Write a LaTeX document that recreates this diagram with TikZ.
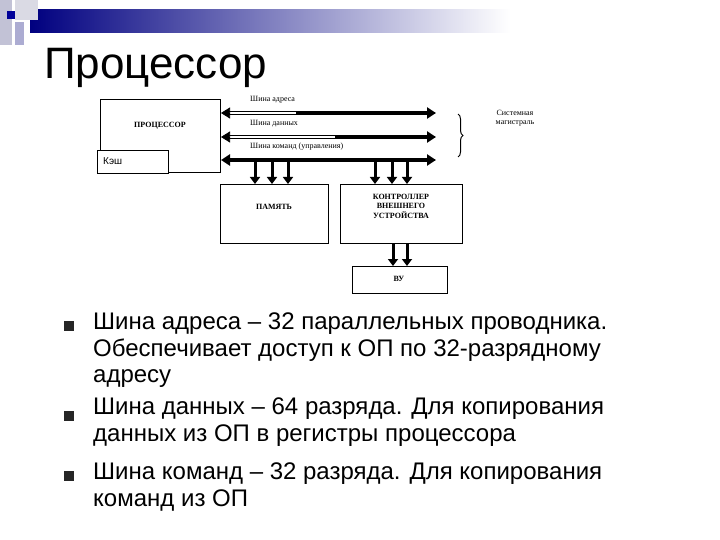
\documentclass[tikz,border=0pt]{standalone}
\usepackage{fontspec}
\setmainfont{Liberation Sans}
\newfontfamily\serifru{Liberation Serif}
\usetikzlibrary{arrows.meta,decorations.pathreplacing,calc}
\begin{document}
\begin{tikzpicture}[x=1pt,y=-1pt,
  box/.style={draw,line width=0.8pt},
  lbl/.style={font=\serifru\fontsize{8}{9}\selectfont,inner sep=0pt},
  blbl/.style={font=\serifru\bfseries\fontsize{8}{9.5}\selectfont,align=center,inner sep=0pt},
  thick bus/.style={line width=4pt,-{Triangle[length=9pt,width=11pt]}},
  hollow/.style={draw=black,double=white,double distance=2.5pt,line width=0.7pt},
  down/.style={line width=3pt,-{Triangle[length=7pt,width=10pt]}},
  btxt/.style={font=\fontsize{24}{26.5}\selectfont,anchor=north west,align=left,inner sep=0pt}]
\useasboundingbox (0,0) rectangle (720,540);
\fill[white] (0,0) rectangle (720,540);
% decoration
\shade[left color=blue!50!black,right color=white] (30,10) rectangle (510,33);
\fill[blue!20!gray!40] (0,0) rectangle (12,45);
\fill[blue!15!gray!25] (15,0) rectangle (38,20);
\fill[blue!30!gray!50] (15,22) rectangle (24,45);
\fill[blue!60!black] (7,11) rectangle (15,19);
\node[anchor=west,font=\fontsize{44}{44}\selectfont,inner sep=0pt] (title) at (44,68) {Процессор};
% boxes
\node[box,minimum width=120pt,minimum height=73pt,inner sep=0pt] (cpu) at (160,136) {};
\node[blbl] (cpulbl) at (160,126) {ПРОЦЕССОР};
\node[box,fill=white,minimum width=71pt,minimum height=23pt,anchor=north west,inner sep=0pt] (cache) at (97,150) {};
\node[anchor=west,font=\fontsize{10}{10}\selectfont,inner sep=0pt] (cachelbl) at (103,161) {Кэш};
\node[box,minimum width=108pt,minimum height=59pt,anchor=north west,inner sep=0pt] (mem) at (220,184) {};
\node[blbl] (memlbl) at (274,207) {ПАМЯТЬ};
\node[box,minimum width=122pt,minimum height=59pt,anchor=north west,inner sep=0pt] (ctl) at (340,184) {};
\node[blbl] (ctllbl) at (401,206) {КОНТРОЛЛЕР\\ВНЕШНЕГО\\УСТРОЙСТВА};
\node[box,minimum width=95pt,minimum height=27pt,anchor=north west,inner sep=0pt] (vu) at (352,266) {};
\node[blbl] (vulbl) at (399,279) {ВУ};
% buses
\coordinate (a0) at (221,113); \coordinate (a1) at (296,113); \coordinate (a2) at (436,113);
\coordinate (d0) at (221,137); \coordinate (d1) at (335,137); \coordinate (d2) at (436,137);
\coordinate (c0) at (221,160); \coordinate (c2) at (436,160);
\draw[thick bus] (a1) -- (a2);
\draw[hollow] ($(a0)+(7,0)$) -- (a1);
\draw[-{Triangle[length=9pt,width=11pt]},line width=0.6pt] ($(a0)+(8,0)$) -- (a0);
\draw[thick bus] (d1) -- (d2);
\draw[hollow] ($(d0)+(7,0)$) -- (d1);
\draw[-{Triangle[length=9pt,width=11pt]},line width=0.6pt] ($(d0)+(8,0)$) -- (d0);
\draw[thick bus,{Triangle[length=9pt,width=11pt]}-{Triangle[length=9pt,width=11pt]}] (c0) -- (c2);
\node[lbl,anchor=south west] (la) at (250,103) {Шина адреса};
\node[lbl,anchor=south west] (ld) at (250,127) {Шина данных};
\node[lbl,anchor=south west] (lc) at (250,150) {Шина команд (управления)};
\draw[decorate,decoration={brace,amplitude=5pt},line width=1pt] (458,114) -- (458,157);
\node[lbl,align=center] (sm) at (515,118) {Системная\\магистраль};
% down arrows
\foreach \x in {255,272,288} \draw[down] (\x,160) -- (\x,184);
\foreach \x in {375,392,407} \draw[down] (\x,160) -- (\x,184);
\foreach \x in {393,407} \draw[down] (\x,243) -- (\x,266);
% bullets
\foreach \y in {321,411,471} \fill[black!85] (64,\y) rectangle (74,\y+10);
\node[btxt] (t1) at (93,313) {Шина адреса – 32 параллельных проводника.\\Обеспечивает доступ к ОП по 32-разрядному\\адресу};
\node[btxt] (t2) at (93,398) {Шина данных – 64 разряда. Для копирования\\данных из ОП в регистры процессора};
\node[btxt] (t3) at (93,463) {Шина команд – 32 разряда. Для копирования\\команд из ОП};
\end{tikzpicture}
\end{document}
